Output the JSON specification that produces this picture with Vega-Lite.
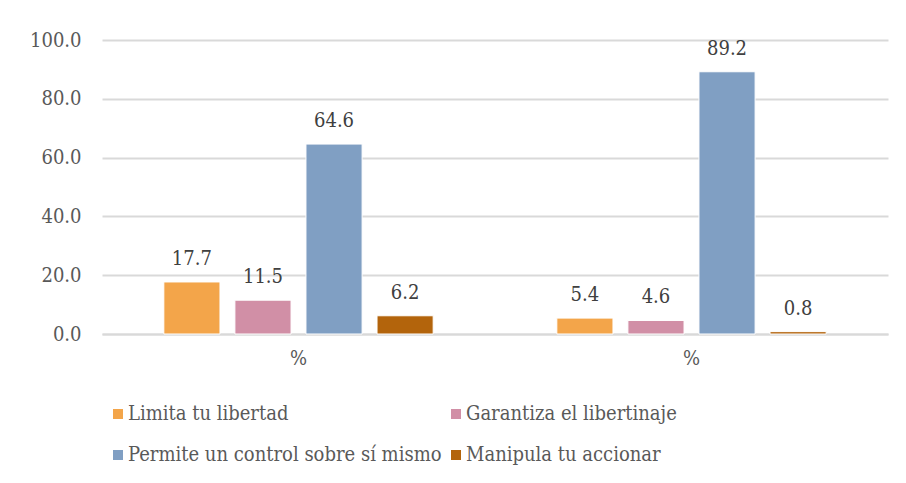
{
  "$schema": "https://vega.github.io/schema/vega-lite/v6.json",
  "width": 786,
  "height": 294,
  "autosize": {"type": "none"},
  "padding": {"left": 102, "top": 40, "right": 18, "bottom": 149},
  "background": "white",
  "config": {
    "font": "DejaVu Serif Condensed, DejaVu Serif",
    "view": {"stroke": null}
  },
  "data": {
    "values": [
      {"grupo": "A", "serie": "Limita tu libertad", "valor": 17.7},
      {"grupo": "A", "serie": "Garantiza el libertinaje", "valor": 11.5},
      {"grupo": "A", "serie": "Permite un control sobre sí mismo", "valor": 64.6},
      {"grupo": "A", "serie": "Manipula tu accionar", "valor": 6.2},
      {"grupo": "B", "serie": "Limita tu libertad", "valor": 5.4},
      {"grupo": "B", "serie": "Garantiza el libertinaje", "valor": 4.6},
      {"grupo": "B", "serie": "Permite un control sobre sí mismo", "valor": 89.2},
      {"grupo": "B", "serie": "Manipula tu accionar", "valor": 0.8}
    ]
  },
  "encoding": {
    "x": {
      "field": "grupo",
      "type": "nominal",
      "scale": {"paddingInner": 0, "paddingOuter": 0},
      "axis": {
        "title": null,
        "labelExpr": "'%'",
        "labelAngle": 0,
        "labelFontSize": 20,
        "labelColor": "#595959",
        "labelPadding": 14,
        "ticks": false,
        "domain": true,
        "domainColor": "#D9D9D9",
        "domainWidth": 2
      }
    },
    "xOffset": {
      "field": "serie",
      "type": "nominal",
      "sort": ["Limita tu libertad", "Garantiza el libertinaje", "Permite un control sobre sí mismo", "Manipula tu accionar"],
      "scale": {"paddingInner": 0.21, "paddingOuter": 0.87}
    },
    "y": {
      "field": "valor",
      "type": "quantitative",
      "scale": {"domain": [0, 100]},
      "axis": {
        "title": null,
        "values": [0, 20, 40, 60, 80, 100],
        "format": ".1f",
        "labelFontSize": 20,
        "labelColor": "#595959",
        "labelPadding": 21,
        "ticks": false,
        "domain": false,
        "grid": true,
        "gridColor": "#D9D9D9",
        "gridWidth": 2
      }
    }
  },
  "layer": [
    {
      "mark": {"type": "bar", "stroke": "white", "strokeWidth": 1},
      "encoding": {
        "color": {
          "field": "serie",
          "type": "nominal",
          "sort": ["Limita tu libertad", "Garantiza el libertinaje", "Permite un control sobre sí mismo", "Manipula tu accionar"],
          "scale": {
            "domain": ["Limita tu libertad", "Garantiza el libertinaje", "Permite un control sobre sí mismo", "Manipula tu accionar"],
            "range": ["#F3A54A", "#D18FA6", "#809FC3", "#B3640C"]
          },
          "legend": {
            "title": null,
            "orient": "none",
            "legendX": 6,
            "legendY": 364,
            "columns": 2,
            "direction": "horizontal",
            "symbolType": "square",
            "symbolSize": 100,
            "symbolStrokeWidth": 0,
            "labelFontSize": 20,
            "labelColor": "#595959",
            "labelOffset": 0,
            "labelLimit": 400,
            "rowPadding": 21,
            "columnPadding": 4
          }
        }
      }
    },
    {
      "mark": {"type": "text", "fontSize": 20, "color": "#404040", "baseline": "alphabetic", "dy": -17},
      "encoding": {
        "text": {"field": "valor", "type": "quantitative", "format": ".1f"}
      }
    }
  ]
}
